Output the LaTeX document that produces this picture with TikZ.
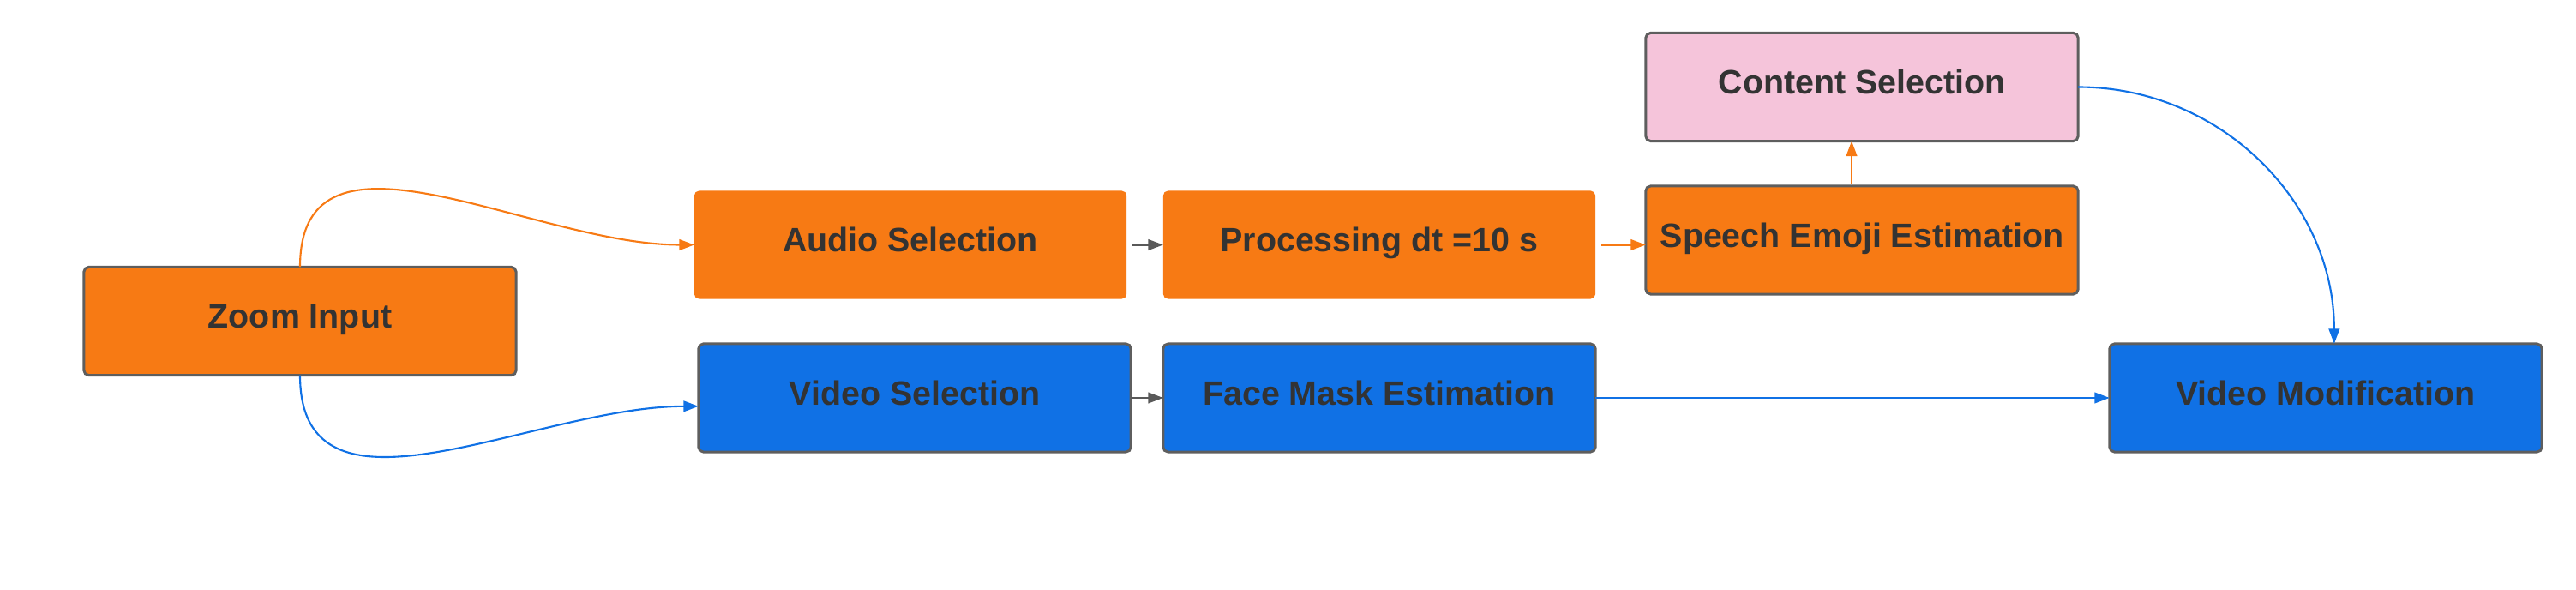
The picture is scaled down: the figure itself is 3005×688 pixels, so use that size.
\documentclass[tikz,border=0pt]{standalone}
\usepackage{fontspec}
\setmainfont{Liberation Sans}
\usetikzlibrary{arrows.meta}
\definecolor{lorange}{HTML}{F77A14}
\definecolor{lblue}{HTML}{1071E5}
\definecolor{lpink}{HTML}{F5C4DA}
\definecolor{lborder}{HTML}{5E5E5E}
\definecolor{ltext}{HTML}{333333}
\definecolor{lgray}{HTML}{595959}
\tikzset{
  box/.style={rectangle, rounded corners=1.6pt, minimum width=5.04cm, minimum height=1.26cm,
    inner sep=0pt, outer sep=0pt, text=ltext, font=\fontsize{11.2pt}{13pt}\selectfont\bfseries,
    text height=8pt, text depth=3.4pt},
  bordered/.style={draw=lborder, line width=0.85pt},
  obox/.style={box, bordered, fill=lorange},
  oplain/.style={box, fill=lorange},
  bbox/.style={box, bordered, fill=lblue},
  pbox/.style={box, bordered, fill=lpink},
  conn/.style={line width=0.6pt, -{Triangle[length=5pt,width=3.6pt]}},
}
\begin{document}
\begin{tikzpicture}[x=0.01cm,y=0.01cm]
\useasboundingbox (0,0) rectangle (3005,688);
\node[obox] (zoom) at (350,313.5) {Zoom Input};
\node[oplain] (audio) at (1062,402.5) {Audio Selection};
\node[oplain] (proc) at (1609,402.5) {Processing dt =10 s};
\node[obox] (speech) at (2172,408) {Speech Emoji Estimation};
\node[pbox] (content) at (2172,586.5) {Content Selection};
\node[bbox] (vsel) at (1067,224) {Video Selection};
\node[bbox] (face) at (1609,224) {Face Mask Estimation};
\node[bbox] (vmod) at (2713,224) {Video Modification};

\draw[conn, lorange] (zoom.north) to[out=90,in=180,looseness=1.05] (audio.west);
\draw[conn, lblue] (zoom.south) to[out=-90,in=180,looseness=1.05] ([yshift=-2.8pt]vsel.west);
\draw[conn, lgray] ([xshift=2pt]audio.east) -- (proc.west);
\draw[conn, lorange] ([xshift=2pt]proc.east) -- (proc.east -| speech.west);
\draw[conn, lgray] (vsel.east) -- (face.west);
\draw[conn, lblue] (face.east) -- (vmod.west);
\draw[conn, lorange] ([xshift=-3.4pt,yshift=0.5pt]speech.north) -- ([xshift=-3.4pt]content.south);
\draw[conn, lblue] (content.east) to[out=0,in=90] ([xshift=2.8pt]vmod.north);
\end{tikzpicture}
\end{document}
